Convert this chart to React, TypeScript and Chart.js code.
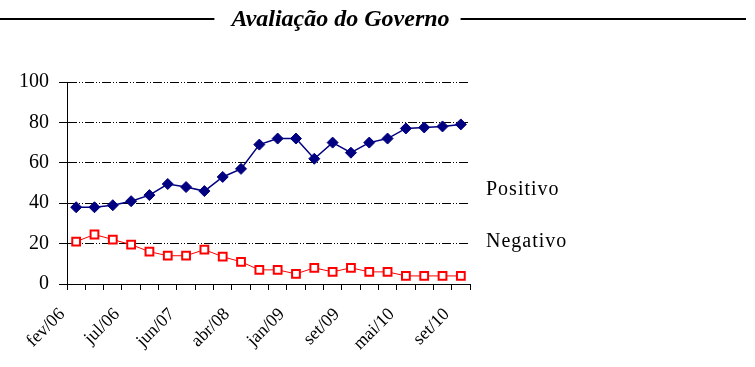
import React, { useEffect, useRef } from "react";
import { Chart, registerables } from "chart.js";

Chart.register(...registerables);

const TITLE = "Avaliação do Governo";
const categories = [
  "fev/06", "", "", "jul/06", "", "", "jun/07", "", "", "abr/08", "", "",
  "jan/09", "", "", "set/09", "", "", "mai/10", "", "", "set/10",
];
const positivo = [38, 38, 39, 41, 44, 49.5, 48, 46, 53, 57, 69, 72, 72, 62, 70, 65, 70, 72, 77, 77.5, 78, 79];
const negativo = [21, 24.5, 22, 19.5, 16, 14, 14, 17, 13.5, 11, 7, 7, 5, 8, 6, 8, 6, 6, 4, 4, 4, 4];
const seriesNames = ["Positivo", "Negativo"];
const yMin = 0;
const yMax = 100;
const yStep = 20;

const SERIF = "'Liberation Serif', 'Times New Roman', serif";

const decorPlugin = {
  id: "decor",
  afterDraw(chart: any) {
    const { ctx, chartArea } = chart;
    ctx.save();
    ctx.fillStyle = "#000";
    ctx.strokeStyle = "#000";
    ctx.font = `italic bold 24px ${SERIF}`;
    ctx.textAlign = "center";
    ctx.textBaseline = "alphabetic";
    const cx = 340.5;
    const w = ctx.measureText(TITLE).width;
    ctx.fillText(TITLE, cx, 26);
    ctx.lineWidth = 2;
    ctx.beginPath();
    ctx.moveTo(0, 19);
    ctx.lineTo(cx - w / 2 - 17, 19);
    ctx.moveTo(cx + w / 2 + 11, 19);
    ctx.lineTo(746, 19);
    ctx.stroke();

    ctx.font = `20px ${SERIF}`;
    (ctx as any).letterSpacing = "1px";
    ctx.textAlign = "left";
    ctx.fillText(seriesNames[0], chartArea.right + 16, 195);
    ctx.fillText(seriesNames[1], chartArea.right + 16, 247);
    ctx.restore();
  },
};

export default function App() {
  const ref = useRef<HTMLCanvasElement | null>(null);

  useEffect(() => {
    if (!ref.current) return;
    const chart = new Chart(ref.current, {
      type: "line",
      data: {
        labels: categories,
        datasets: [
          {
            label: seriesNames[0],
            data: positivo,
            borderColor: "#000080",
            backgroundColor: "#000080",
            borderWidth: 1.5,
            pointStyle: "rectRot",
            pointRadius: 5.5,
            pointBorderWidth: 1,
            pointBackgroundColor: "#000080",
            pointBorderColor: "#000080",
            tension: 0,
          },
          {
            label: seriesNames[1],
            data: negativo,
            borderColor: "#ff0000",
            backgroundColor: "#ffffff",
            borderWidth: 1,
            pointStyle: "rect",
            pointRadius: 5.5,
            pointBorderWidth: 2,
            pointBackgroundColor: "#ffffff",
            pointBorderColor: "#ff0000",
            tension: 0,
          },
        ],
      },
      options: {
        animation: false,
        responsive: false,
        events: [],
        layout: { padding: { top: 82, right: 285, left: 0, bottom: 0 } },
        plugins: {
          legend: { display: false },
          tooltip: { enabled: false },
          title: { display: false },
        },
        scales: {
          x: {
            type: "category",
            offset: true,
            grid: {
              offset: true,
              drawOnChartArea: false,
              drawTicks: true,
              tickLength: 6,
              tickColor: "#000",
              color: "#000",
            },
            border: { display: true, color: "#000", width: 1 },
            ticks: {
              autoSkip: false,
              maxRotation: 45,
              minRotation: 45,
              padding: 14,
              labelOffset: -14,
              color: "#000",
              font: { family: SERIF, size: 18 },
            },
            afterFit: (scale: any) => {
              scale.height = 83;
            },
          },
          y: {
            min: yMin,
            max: yMax,
            grid: {
              color: (c: any) => (c.tick && c.tick.value === 0 ? "rgba(0,0,0,0)" : "#000"),
              lineWidth: 1,
              drawTicks: true,
              tickLength: 8,
              tickColor: "#000",
              tickBorderDash: [],
            },
            border: { display: true, color: "#000", width: 1, dash: [9, 2, 1, 2, 1, 2] },
            ticks: {
              stepSize: yStep,
              padding: 10,
              color: "#000",
              font: { family: SERIF, size: 20 },
            },
            afterFit: (scale: any) => {
              scale.width = 67;
            },
          },
        },
      },
      plugins: [decorPlugin],
    });
    return () => chart.destroy();
  }, []);

  return (
    <div style={{ position: "absolute", left: 0, top: 0, width: 755, height: 367, background: "#fff" }}>
      <canvas ref={ref} width={755} height={367} style={{ display: "block" }} />
    </div>
  );
}
